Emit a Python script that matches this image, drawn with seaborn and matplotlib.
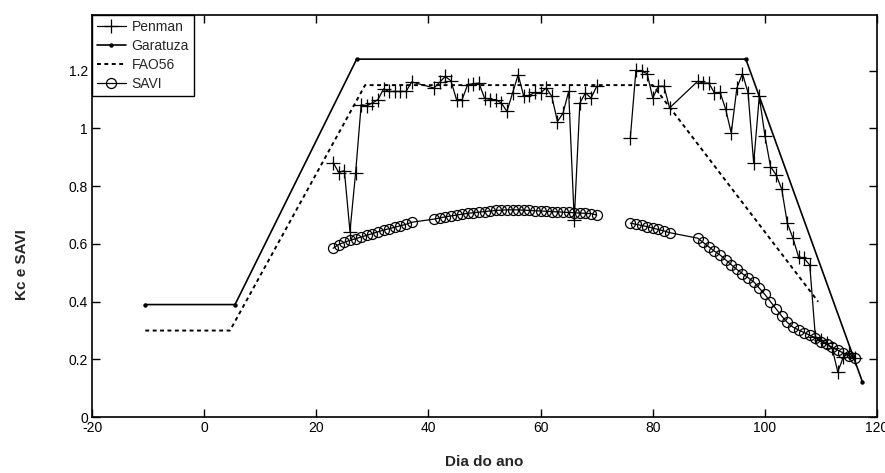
import numpy as np
import pandas as pd
import matplotlib
matplotlib.use("Agg")
import matplotlib.pyplot as plt
from matplotlib.lines import Line2D
from matplotlib.ticker import FixedLocator, FuncFormatter
import seaborn as sns

# ---------------- data ----------------
# Penman / SAVI (daily), two field segments with a break between them
days_a = [23, 24, 25, 26, 27, 28, 29, 30, 31, 32, 33, 34, 35, 36, 37,
          41, 42, 43, 44, 45, 46, 47, 48, 49, 50, 51, 52, 53, 54, 55,
          56, 57, 58, 59, 60, 61, 62, 63, 64, 65, 66, 67, 68, 69, 70]
penman_a = [0.882, 0.847, 0.854, 0.643, 0.845, 1.082, 1.079, 1.088, 1.100, 1.137,
            1.128, 1.128, 1.128, 1.128, 1.161,
            1.140, 1.160, 1.180, 1.165, 1.100, 1.100, 1.152, 1.155, 1.157, 1.105,
            1.100, 1.100, 1.088, 1.059, 1.123, 1.186, 1.111, 1.115, 1.125, 1.123,
            1.140, 1.111, 1.024, 1.053, 1.128, 0.683, 1.088, 1.123, 1.105, 1.146]
savi_a = [0.585, 0.598, 0.606, 0.612, 0.618, 0.624, 0.630, 0.636, 0.642, 0.648,
          0.653, 0.658, 0.663, 0.668, 0.675,
          0.686, 0.690, 0.694, 0.697, 0.700, 0.703, 0.706, 0.708, 0.710, 0.712,
          0.714, 0.716, 0.717, 0.718, 0.718, 0.718, 0.717, 0.716, 0.715, 0.714,
          0.713, 0.712, 0.711, 0.710, 0.709, 0.708, 0.707, 0.706, 0.705, 0.700]

days_b = [76, 77, 78, 79, 80, 81, 82, 83,
          88, 89, 90, 91, 92, 93, 94, 95, 96, 97, 98, 99, 100, 101, 102,
          103, 104, 105, 106, 107, 108, 109, 110, 111, 112, 113, 114, 115, 116]
penman_b = [0.967, 1.201, 1.198, 1.190, 1.105, 1.146, 1.146, 1.071,
            1.163, 1.157, 1.157, 1.123, 1.125, 1.067, 0.984, 1.140, 1.190, 1.123,
            0.880, 1.111, 0.975, 0.868, 0.839, 0.790, 0.672, 0.620, 0.556, 0.550,
            0.527, 0.279, 0.267, 0.256, 0.238, 0.157, 0.209, 0.221, 0.204]
savi_b = [0.672, 0.668, 0.664, 0.660, 0.655, 0.650, 0.645, 0.639,
          0.620, 0.605, 0.590, 0.575, 0.562, 0.545, 0.528, 0.512, 0.497, 0.483,
          0.469, 0.447, 0.425, 0.400, 0.375, 0.350, 0.328, 0.312, 0.302, 0.293,
          0.284, 0.275, 0.262, 0.252, 0.242, 0.232, 0.222, 0.212, 0.204]

# Garatuza Kc curve
gar_days = [-10.5, 5.5, 27.2, 96.6, 117.4]
gar_kc = [0.39, 0.39, 1.24, 1.24, 0.122]

# FAO56 Kc curve
fao_days = [-10.5, 4.6, 28.7, 80.0, 109.5]
fao_kc = [0.30, 0.30, 1.15, 1.15, 0.40]

x_ticks = [-20, 0, 20, 40, 60, 80, 100, 120]
y_ticks = [0, 0.2, 0.4, 0.6, 0.8, 1.0, 1.2]

# ---------------- frames ----------------
df_pen = pd.DataFrame({
    "day": days_a + days_b,
    "kc": penman_a + penman_b,
    "seg": ["a"] * len(days_a) + ["b"] * len(days_b),
})
df_savi = pd.DataFrame({
    "day": days_a + days_b,
    "v": savi_a + savi_b,
    "seg": ["a"] * len(days_a) + ["b"] * len(days_b),
})
df_gar = pd.DataFrame({"day": gar_days, "kc": gar_kc})
df_fao = pd.DataFrame({"day": fao_days, "kc": fao_kc})

# ---------------- style ----------------
sns.set_style("ticks")
plt.rcParams["font.family"] = ["Liberation Sans", "DejaVu Sans"]
plt.rcParams["xtick.direction"] = "in"
plt.rcParams["ytick.direction"] = "in"

fig = plt.figure(figsize=(8.85, 4.73), dpi=100)
ax = fig.add_axes([0.104, 0.118, 0.887, 0.851])

k = "black"
sns.lineplot(data=df_gar, x="day", y="kc", color=k, lw=1.2, marker="o",
             markersize=3.2, markeredgewidth=0, sort=False, ax=ax)
sns.lineplot(data=df_fao, x="day", y="kc", color=k, lw=1.4,
             linestyle=(0, (2.0, 1.8)), sort=False, ax=ax)
sns.lineplot(data=df_savi, x="day", y="v", units="seg", estimator=None,
             color=k, lw=0.9, marker="o", markersize=7.2,
             markerfacecolor="none", markeredgecolor=k, markeredgewidth=0.9,
             ax=ax)
sns.lineplot(data=df_pen, x="day", y="kc", units="seg", estimator=None,
             color=k, lw=0.9, marker="+", markersize=10,
             markeredgewidth=0.9, markeredgecolor=k, ax=ax)

ax.set_xlim(-20, 120)
ax.set_ylim(0, 1.394)
ax.xaxis.set_major_locator(FixedLocator(x_ticks))
ax.yaxis.set_major_locator(FixedLocator(y_ticks))
ax.yaxis.set_major_formatter(FuncFormatter(lambda v, p: f"{v:g}"))
ax.xaxis.set_major_formatter(FuncFormatter(lambda v, p: f"{v:g}"))
ax.tick_params(axis="both", which="both", direction="in", length=5.5,
               width=1.0, labelsize=10, top=True, right=True, colors=k,
               pad=3)
for s in ax.spines.values():
    s.set_visible(True)
    s.set_linewidth(1.2)
    s.set_color(k)

ax.set_xlabel("Dia do ano", fontsize=11, fontweight="bold", labelpad=14)
ax.set_ylabel("Kc e SAVI", fontsize=11, fontweight="bold")
ax.yaxis.set_label_coords(-0.080, 0.38)

handles = [
    Line2D([], [], color=k, lw=0.9, marker="+", markersize=10, markeredgewidth=0.9),
    Line2D([], [], color=k, lw=1.2, marker="o", markersize=3.2, markeredgewidth=0),
    Line2D([], [], color=k, lw=1.4, linestyle=(0, (2.0, 1.8))),
    Line2D([], [], color=k, lw=0.9, marker="o", markersize=7.2,
           markerfacecolor="none", markeredgewidth=0.9),
]
labels = ["Penman", "Garatuza", "FAO56", "SAVI"]
leg = ax.legend(handles, labels, loc="upper left", borderaxespad=0,
                fontsize=10, frameon=True, fancybox=False, framealpha=1,
                edgecolor=k, handlelength=2.1, handletextpad=0.4,
                labelspacing=0.37, borderpad=0.35)
leg.get_frame().set_linewidth(1.0)

fig.savefig("out.png", dpi=100)
